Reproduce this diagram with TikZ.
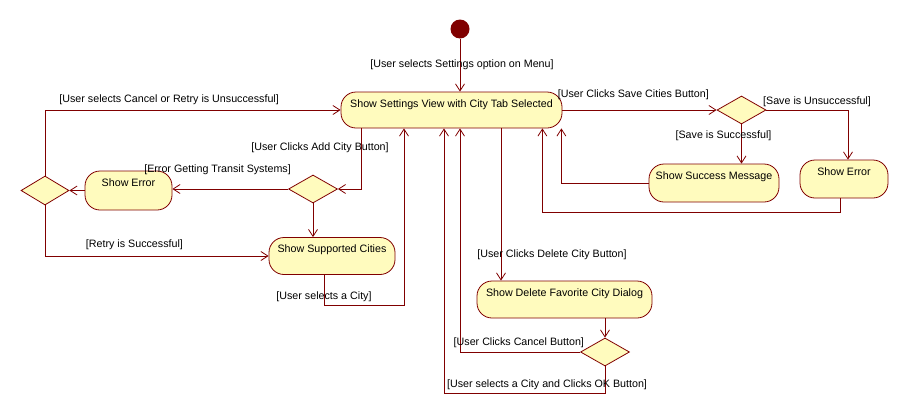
\documentclass[tikz,border=0pt]{standalone}
\usepackage{fontspec}
\setmainfont{Liberation Sans}
\usetikzlibrary{arrows.meta,shapes.geometric}
\definecolor{umlred}{RGB}{128,0,0}
\definecolor{umlfill}{RGB}{255,251,190}

\begin{document}
\begin{tikzpicture}[x=1pt,y=-1pt,font=\fontsize{10.7}{12}\selectfont,
	>={Straight Barb[length=7pt,width=9pt]}]
	
	% Styles for activities, decisions and flows
	\tikzset{
		activity/.style={rectangle,rounded corners=15pt,draw=umlred,fill=umlfill,
			line width=0.8pt,inner ysep=0pt,text height=15pt,text depth=#1},
		activity/.default=22pt,
		decision/.style={diamond,draw=umlred,fill=umlfill,line width=0.8pt,
			inner sep=0pt,minimum width=49pt,minimum height=28pt},
		start/.style={circle,fill=umlred,inner sep=0pt,minimum size=19pt},
		flow/.style={->,draw=umlred,line width=0.8pt},
		guard/.style={inner sep=1pt}
	}
	
	\useasboundingbox (0,0) rectangle (909,413);
	
	%========================================
	% Nodes
	%========================================
	\node[start] (init) at (460,29) {};
	\node[activity=21pt,minimum width=221pt] (settings) at (451.5,110)
	{Show Settings View with City Tab Selected};
	
	% Add city branch
	\node[decision] (adddec) at (313,189) {};
	\node[activity=24pt,minimum width=87pt] (showerr1) at (128.5,190.5) {Show Error};
	\node[decision,minimum width=48pt,minimum height=29pt] (retrydec) at (45,190.5) {};
	\node[activity,minimum width=126pt] (supcities) at (332,256) {Show Supported Cities};
	
	% Delete city branch
	\node[activity,minimum width=175pt] (deldlg) at (564.5,299.5)
	{Show Delete Favorite City Dialog};
	\node[decision] (deldec) at (605,352) {};
	
	% Save branch
	\node[decision] (savedec) at (741.5,110) {};
	\node[activity=23pt,minimum width=130pt] (savedok) at (714,183) {Show Success Message};
	\node[activity=23pt,minimum width=88pt] (showerr2) at (844,179) {Show Error};
	
	%========================================
	% Flows
	%========================================
	\draw[flow] (init) -- (init |- settings.north)
	node[guard,midway,xshift=2pt] {[User selects Settings option on Menu]};
	
	% Add city
	\draw[flow] ([xshift=-90.5pt]settings.south) |- (adddec.east)
	node[guard,pos=0.156,xshift=-41pt] {[User Clicks Add City Button]};
	\draw[flow] (adddec.west) -- (adddec.west -| showerr1.east)
	node[guard,pos=0.61,yshift=19pt] {[Error Getting Transit Systems]};
	\draw[flow] (showerr1.west) -- (retrydec.east);
	\draw[flow] (retrydec.north) |- (settings.west)
	node[guard,pos=0.71,yshift=10pt] {[User selects Cancel or Retry is Unsuccessful]};
	\draw[flow] (retrydec.south) |- (supcities.west)
	node[guard,pos=0.70,yshift=11pt] {[Retry is Successful]};
	\draw[flow] (adddec.south) -- (adddec.south |- supcities.north);
	\draw[flow] ([xshift=-8pt]supcities.south) -- ++(0,30)
	node[guard,pos=0.72] {[User selects a City]}
	-| ([xshift=-47.5pt]settings.south);
	
	% Delete city
	\draw[flow] ([xshift=49.5pt]settings.south) -- ([xshift=49.5pt]settings.south |- deldlg.north)
	node[guard,pos=0.83,xshift=51pt] {[User Clicks Delete City Button]};
	\draw[flow] ([xshift=40.5pt]deldlg.south) -- (deldec.north);
	\draw[flow] (deldec.west) -| ([xshift=8.5pt]settings.south)
	node[guard,pos=0.255,yshift=9pt] {[User Clicks Cancel Button]};
	\draw[flow] (deldec.south) -- ++(0,27)
	-| ([xshift=-7.5pt]settings.south)
	node[guard,pos=0.18,yshift=9pt] {[User selects a City and Clicks OK Button]};
	
	% Save cities
	\draw[flow] (settings.east) -- (savedec.west)
	node[guard,pos=0.46,yshift=15pt] {[User Clicks Save Cities Button]};
	\draw[flow] (savedec.east) -| ([xshift=4pt]showerr2.north)
	node[guard,pos=0.31,yshift=8pt] {[Save is Unsuccessful]};
	\draw[flow] (savedec.south) -- (savedec.south |- savedok.north)
	node[guard,pos=0.28,xshift=-18pt] {[Save is Successful]};
	\draw[flow] (savedok.west) -| ([xshift=-1pt]settings.south east);
	\draw[flow] ([xshift=-4pt]showerr2.south) -- ++(0,14)
	-| ([xshift=-20pt]settings.south east);
	
\end{tikzpicture}
\end{document}
